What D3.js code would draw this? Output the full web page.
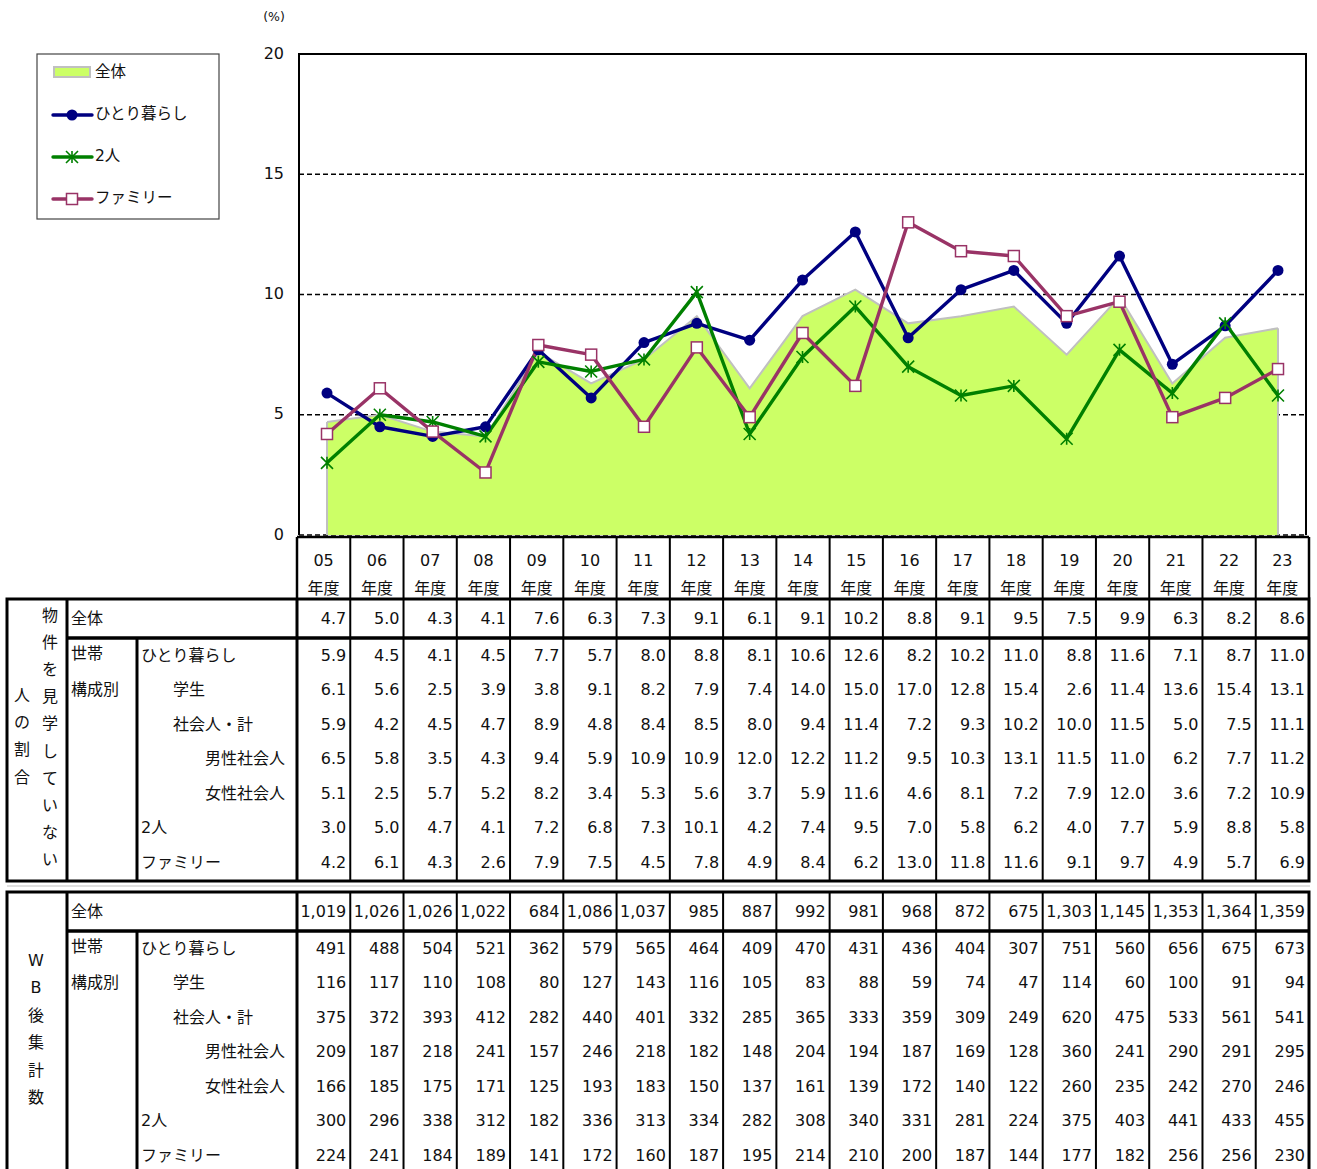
<!DOCTYPE html>
<html>
<head>
<meta charset="utf-8">
<script src="https://cdn.jsdelivr.net/npm/d3@7"></script>
<style>
  body { margin: 0; background: #fff; }
  text { font-family: "DejaVu Sans", "Noto Sans CJK JP", sans-serif; fill: #111; }
</style>
</head>
<body>
<svg id="chart" width="1317" height="1169"></svg>
<script>
// ---- data: share of people who did not view the property (%) ----
const years = ["05","06","07","08","09","10","11","12","13","14","15","16","17","18","19","20","21","22","23"];
const yearSuffix = "年度";
const yTicks = [0, 5, 10, 15, 20];

const shareAll     = [4.7,5.0,4.3,4.1,7.6,6.3,7.3,9.1,6.1,9.1,10.2,8.8,9.1,9.5,7.5,9.9,6.3,8.2,8.6];
const shareSingle  = [5.9,4.5,4.1,4.5,7.7,5.7,8.0,8.8,8.1,10.6,12.6,8.2,10.2,11.0,8.8,11.6,7.1,8.7,11.0];
const shareStudent = [6.1,5.6,2.5,3.9,3.8,9.1,8.2,7.9,7.4,14.0,15.0,17.0,12.8,15.4,2.6,11.4,13.6,15.4,13.1];
const shareWorker  = [5.9,4.2,4.5,4.7,8.9,4.8,8.4,8.5,8.0,9.4,11.4,7.2,9.3,10.2,10.0,11.5,5.0,7.5,11.1];
const shareMale    = [6.5,5.8,3.5,4.3,9.4,5.9,10.9,10.9,12.0,12.2,11.2,9.5,10.3,13.1,11.5,11.0,6.2,7.7,11.2];
const shareFemale  = [5.1,2.5,5.7,5.2,8.2,3.4,5.3,5.6,3.7,5.9,11.6,4.6,8.1,7.2,7.9,12.0,3.6,7.2,10.9];
const shareCouple  = [3.0,5.0,4.7,4.1,7.2,6.8,7.3,10.1,4.2,7.4,9.5,7.0,5.8,6.2,4.0,7.7,5.9,8.8,5.8];
const shareFamily  = [4.2,6.1,4.3,2.6,7.9,7.5,4.5,7.8,4.9,8.4,6.2,13.0,11.8,11.6,9.1,9.7,4.9,5.7,6.9];

// ---- data: number of responses after weight-back ----
const countAll     = [1019,1026,1026,1022,684,1086,1037,985,887,992,981,968,872,675,1303,1145,1353,1364,1359];
const countSingle  = [491,488,504,521,362,579,565,464,409,470,431,436,404,307,751,560,656,675,673];
const countStudent = [116,117,110,108,80,127,143,116,105,83,88,59,74,47,114,60,100,91,94];
const countWorker  = [375,372,393,412,282,440,401,332,285,365,333,359,309,249,620,475,533,561,541];
const countMale    = [209,187,218,241,157,246,218,182,148,204,194,187,169,128,360,241,290,291,295];
const countFemale  = [166,185,175,171,125,193,183,150,137,161,139,172,140,122,260,235,242,270,246];
const countCouple  = [300,296,338,312,182,336,313,334,282,308,340,331,281,224,375,403,441,433,455];
const countFamily  = [224,241,184,189,141,172,160,187,195,214,210,200,187,144,177,182,256,256,230];

// row labels
const subLabels = ["ひとり暮らし","学生","社会人・計","男性社会人","女性社会人","2人","ファミリー"];
const subIndent = [0, 1, 1, 2, 2, 0, 0];
const legendLabels = ["全体","ひとり暮らし","2人","ファミリー"];

const COL_AREA = "#CCFF66", COL_AREA_EDGE = "#C0C0C0";
const COL_SINGLE = "#000080", COL_COUPLE = "#008000", COL_FAMILY = "#993366";

const svg = d3.select("#chart");

// ---- scales ----
const plot = { left: 299, right: 1306, top: 54, bottom: 535 };
const x = d3.scalePoint().domain(years).range([327, 1278]);
const y = d3.scaleLinear().domain([0, 20]).range([plot.bottom, plot.top]);
const col = d3.scaleBand().domain(years).range([297, 1309]).padding(0);

// ---- gridlines (behind the area) ----
svg.append("g").selectAll("line").data(yTicks.filter(d => d < 20)).join("line")
  .attr("x1", plot.left).attr("x2", plot.right)
  .attr("y1", d => y(d)).attr("y2", d => y(d))
  .attr("stroke", "#000").attr("stroke-width", 1.5).attr("stroke-dasharray", "5,3");

// ---- area: overall ----
const area = d3.area().x((d, i) => x(years[i])).y0(y(0)).y1(d => y(d));
svg.append("path").datum(shareAll).attr("d", area).attr("fill", COL_AREA);
svg.append("path").datum(shareAll)
  .attr("d", d3.line().x((d, i) => x(years[i])).y(d => y(d)))
  .attr("fill", "none").attr("stroke", COL_AREA_EDGE).attr("stroke-width", 2);
svg.append("path")
  .attr("d", `M${x(years[0])},${y(0)}V${y(shareAll[0])}M${x(years[years.length-1])},${y(0)}V${y(shareAll[shareAll.length-1])}`)
  .attr("stroke", COL_AREA_EDGE).attr("stroke-width", 2);

// ---- plot frame ----
svg.append("path")
  .attr("d", `M${plot.left},${plot.bottom}V${plot.top}H${plot.right}V${plot.bottom}`)
  .attr("fill", "none").attr("stroke", "#000").attr("stroke-width", 2);

// ---- y axis ----
const yAxis = d3.axisLeft(y).tickValues(yTicks).tickSize(0).tickPadding(15);
const gy = svg.append("g").attr("transform", `translate(${plot.left},0)`).call(yAxis);
gy.select(".domain").remove();
gy.selectAll("text").attr("font-size", 16).attr("fill", "#111")
  .attr("font-family", '"DejaVu Sans", sans-serif').attr("dy", "0.25em");
svg.append("text").attr("x", 274).attr("y", 16).attr("text-anchor", "middle")
  .attr("dominant-baseline", "central").attr("font-size", 12.5).text("(%)");

// ---- lines and markers ----
const line = d3.line().x((d, i) => x(years[i])).y(d => y(d));
function drawLine(values, color) {
  svg.append("path").datum(values).attr("d", line)
    .attr("fill", "none").attr("stroke", color).attr("stroke-width", 3.4)
    .attr("stroke-linejoin", "round");
}
function circleMarker(g, cx, cy) {
  g.append("circle").attr("cx", cx).attr("cy", cy).attr("r", 5.5).attr("fill", COL_SINGLE);
}
function starMarker(g, cx, cy) {
  const s = 6;
  g.append("path")
    .attr("d", `M${cx-s},${cy-s}L${cx+s},${cy+s}M${cx-s},${cy+s}L${cx+s},${cy-s}M${cx},${cy-s}L${cx},${cy+s}`)
    .attr("stroke", COL_COUPLE).attr("stroke-width", 1.6).attr("fill", "none");
}
function squareMarker(g, cx, cy) {
  g.append("rect").attr("x", cx - 5.5).attr("y", cy - 5.5).attr("width", 11).attr("height", 11)
    .attr("fill", "#fff").attr("stroke", COL_FAMILY).attr("stroke-width", 1.5);
}

drawLine(shareSingle, COL_SINGLE);
drawLine(shareCouple, COL_COUPLE);
drawLine(shareFamily, COL_FAMILY);
const gm = svg.append("g");
shareSingle.forEach((v, i) => circleMarker(gm, x(years[i]), y(v)));
shareCouple.forEach((v, i) => starMarker(gm, x(years[i]), y(v)));
shareFamily.forEach((v, i) => squareMarker(gm, x(years[i]), y(v)));

// ---- legend ----
const lg = svg.append("g");
lg.append("rect").attr("x", 37).attr("y", 54).attr("width", 182).attr("height", 165)
  .attr("fill", "#fff").attr("stroke", "#444").attr("stroke-width", 1.2);
const legendY = [72, 114, 156, 198];
lg.append("rect").attr("x", 54).attr("y", legendY[0] - 5).attr("width", 36).attr("height", 10)
  .attr("fill", COL_AREA).attr("stroke", COL_AREA_EDGE).attr("stroke-width", 2);
[[COL_SINGLE, circleMarker], [COL_COUPLE, starMarker], [COL_FAMILY, squareMarker]].forEach(([c, m], k) => {
  const ly = legendY[k + 1] + 1;
  lg.append("line").attr("x1", 53).attr("x2", 92).attr("y1", ly).attr("y2", ly)
    .attr("stroke", c).attr("stroke-width", 3.4).attr("stroke-linecap", "round");
  m(lg, 72, ly);
});
legendLabels.forEach((t, k) => {
  lg.append("text").attr("x", 95).attr("y", legendY[k]).attr("dominant-baseline", "central")
    .attr("font-size", 15.5).text(t);
});

// ---- data tables ----
const tbl = svg.append("g");
const FS = 16;
const bounds = years.map(d => col(d)).concat([col.range()[1]]);

function hLine(x1, x2, yy, w) {
  tbl.append("line").attr("x1", x1).attr("x2", x2).attr("y1", yy).attr("y2", yy)
    .attr("stroke", "#000").attr("stroke-width", w);
}
function vLine(xx, y1, y2, w) {
  tbl.append("line").attr("x1", xx).attr("x2", xx).attr("y1", y1).attr("y2", y2)
    .attr("stroke", "#000").attr("stroke-width", w);
}

// header cells with years
const head = { top: 537, bottom: 598 };
hLine(col.range()[0], col.range()[1], head.top, 2.5);
bounds.forEach((b, i) => vLine(b, head.top, head.bottom, (i === 0 || i === bounds.length - 1) ? 2.5 : 2));
years.forEach(yr => {
  const cx = col(yr) + col.bandwidth() / 2;
  tbl.append("text").attr("x", cx).attr("y", 560).attr("text-anchor", "middle")
    .attr("dominant-baseline", "central").attr("font-size", FS).text(yr);
  tbl.append("text").attr("x", cx).attr("y", 588).attr("text-anchor", "middle")
    .attr("dominant-baseline", "central").attr("font-size", FS).text(yearSuffix);
});

function drawTable(spec) {
  const { top, split, bottom, totalRow, rows, fmt, titleCols } = spec;
  const L = 7, R = col.range()[1];
  // numbers
  const writeRow = (vals, cy) => vals.forEach((v, i) => {
    tbl.append("text").attr("x", col(years[i]) + col.bandwidth() - 4).attr("y", cy)
      .attr("text-anchor", "end").attr("dominant-baseline", "central")
      .attr("font-size", FS).text(fmt(v));
  });
  writeRow(totalRow, (top + split) / 2);
  rows.forEach((vals, r) => writeRow(vals, spec.firstRow + r * 34.5));

  // row labels
  tbl.append("text").attr("x", 71).attr("y", (top + split) / 2).attr("dominant-baseline", "central")
    .attr("font-size", FS).text("全体");
  tbl.append("text").attr("x", 71).attr("y", spec.firstRow - 2).attr("dominant-baseline", "central")
    .attr("font-size", FS).text("世帯");
  tbl.append("text").attr("x", 71).attr("y", spec.firstRow + 34.5).attr("dominant-baseline", "central")
    .attr("font-size", FS).text("構成別");
  subLabels.forEach((t, r) => {
    tbl.append("text").attr("x", [141, 173, 205][subIndent[r]]).attr("y", spec.firstRow + r * 34.5)
      .attr("dominant-baseline", "central").attr("font-size", FS).text(t);
  });
  // vertical titles
  titleCols.forEach(tc => {
    Array.from(tc.text).forEach((ch, k) => {
      tbl.append("text").attr("x", tc.x).attr("y", tc.y0 + k * tc.step).attr("text-anchor", "middle")
        .attr("dominant-baseline", "central").attr("font-size", FS).text(ch);
    });
  });

  // grid
  bounds.slice(1, -1).forEach(b => vLine(b, top, bottom, 2));
  vLine(67, top, bottom, 3);
  vLine(137, split, bottom, 3);
  vLine(col.range()[0], top, bottom, 3);
  hLine(67, R, split, 3.5);
  tbl.append("rect").attr("x", L).attr("y", top).attr("width", R - L).attr("height", bottom - top)
    .attr("fill", "none").attr("stroke", "#000").attr("stroke-width", 3);
}

drawTable({
  top: 599, split: 638, bottom: 881, firstRow: 655,
  totalRow: shareAll,
  rows: [shareSingle, shareStudent, shareWorker, shareMale, shareFemale, shareCouple, shareFamily],
  fmt: d3.format(".1f"),
  titleCols: [
    { text: "物件を見学していない", x: 50, y0: 615, step: 27.2 },
    { text: "人の割合", x: 22, y0: 695, step: 27.4 }
  ]
});

// faint separator between the two tables
svg.append("line").attr("x1", 7).attr("x2", 1310).attr("y1", 886).attr("y2", 886)
  .attr("stroke", "#d4d4d4").attr("stroke-width", 1.5);

drawTable({
  top: 892, split: 931, bottom: 1175, firstRow: 948,
  totalRow: countAll,
  rows: [countSingle, countStudent, countWorker, countMale, countFemale, countCouple, countFamily],
  fmt: d3.format(","),
  titleCols: [
    { text: "WB後集計数", x: 36, y0: 960, step: 27.5 }
  ]
});
</script>
</body>
</html>
